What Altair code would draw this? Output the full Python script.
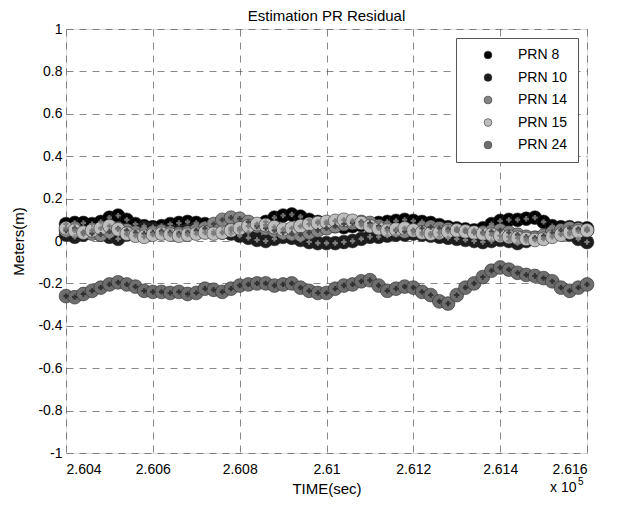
import altair as alt
import pandas as pd

# time samples (sec), every 20 s
TIME = [260400 + 20 * k for k in range(61)]

PRN8 = [0.08, 0.085, 0.085, 0.08, 0.09, 0.11, 0.12, 0.1, 0.08, 0.07,
        0.065, 0.07, 0.08, 0.085, 0.09, 0.085, 0.08, 0.075, 0.07, 0.06,
        0.05, 0.04, 0.06, 0.09, 0.11, 0.12, 0.125, 0.115, 0.1, 0.09,
        0.08, 0.07, 0.065, 0.07, 0.075, 0.08, 0.085, 0.09, 0.095, 0.1,
        0.095, 0.09, 0.085, 0.075, 0.065, 0.06, 0.055, 0.05, 0.06, 0.08,
        0.095, 0.1, 0.1, 0.105, 0.11, 0.09, 0.07, 0.065, 0.065, 0.06,
        0.06]
PRN10 = [0.03, 0.02, 0.03, 0.04, 0.03, 0.02, 0.01, 0.03, 0.05, 0.06,
         0.055, 0.05, 0.05, 0.045, 0.05, 0.06, 0.055, 0.045, 0.04, 0.035,
         0.025, 0.015, 0.005, 0.0, 0.01, 0.02, 0.015, 0.005, -0.005, -0.01,
         -0.01, -0.01, -0.005, 0.0, 0.01, 0.02, 0.02, 0.025, 0.03, 0.03,
         0.035, 0.03, 0.025, 0.02, 0.015, 0.01, 0.005, 0.0, -0.005, 0.0,
         0.005, 0.0, -0.01, 0.0, 0.015, 0.02, 0.03, 0.035, 0.03, 0.01,
         -0.005]
PRN14 = [0.05, 0.06, 0.04, 0.035, 0.03, 0.045, 0.06, 0.05, 0.04, 0.035,
         0.04, 0.045, 0.04, 0.035, 0.04, 0.05, 0.06, 0.08, 0.1, 0.11,
         0.105, 0.09, 0.07, 0.06, 0.05, 0.04, 0.035, 0.03, 0.04, 0.05,
         0.06, 0.07, 0.08, 0.085, 0.09, 0.085, 0.07, 0.06, 0.05, 0.045,
         0.05, 0.06, 0.065, 0.06, 0.055, 0.05, 0.045, 0.04, 0.04, 0.045,
         0.05, 0.04, 0.03, 0.02, 0.015, 0.025, 0.04, 0.05, 0.06, 0.055,
         0.05]
PRN15 = [0.06, 0.05, 0.04, 0.05, 0.06, 0.07, 0.055, 0.035, 0.025, 0.02,
         0.03, 0.035, 0.03, 0.025, 0.03, 0.035, 0.04, 0.035, 0.04, 0.05,
         0.06, 0.07, 0.08, 0.075, 0.065, 0.055, 0.06, 0.07, 0.08, 0.085,
         0.09, 0.095, 0.1, 0.095, 0.085, 0.07, 0.06, 0.05, 0.055, 0.06,
         0.05, 0.04, 0.035, 0.04, 0.045, 0.05, 0.045, 0.04, 0.035, 0.03,
         0.025, 0.02, 0.015, 0.01, 0.005, 0.01, 0.02, 0.03, 0.04, 0.045,
         0.05]
PRN24 = [-0.26, -0.265, -0.25, -0.235, -0.22, -0.205, -0.195, -0.205, -0.215, -0.235,
         -0.24, -0.24, -0.245, -0.24, -0.25, -0.245, -0.225, -0.23, -0.24, -0.225,
         -0.21, -0.205, -0.2, -0.2, -0.21, -0.205, -0.2, -0.22, -0.235, -0.245,
         -0.245, -0.225, -0.21, -0.205, -0.19, -0.185, -0.21, -0.235, -0.225, -0.215,
         -0.22, -0.24, -0.255, -0.285, -0.295, -0.255, -0.22, -0.2, -0.17, -0.14,
         -0.125, -0.135, -0.15, -0.16, -0.165, -0.175, -0.19, -0.22, -0.235, -0.22,
         -0.205]

SERIES = ["PRN 8", "PRN 10", "PRN 14", "PRN 15", "PRN 24"]
COLORS = ["#000000", "#1c1c1c", "#858585", "#bdbdbd", "#6e6e6e"]
CROSS_COLORS = ["#7a7a7a", "#8a8a8a", "#3a3a3a", "#777777", "#2a2a2a"]
X_TICKS = [260400, 260600, 260800, 261000, 261200, 261400, 261600]
Y_TICKS = [-1, -0.8, -0.6, -0.4, -0.2, 0, 0.2, 0.4, 0.6, 0.8, 1]

rows = []
for i, (name, vals) in enumerate(zip(SERIES, [PRN8, PRN10, PRN14, PRN15, PRN24])):
    for t, v in zip(TIME, vals):
        rows.append({"t": t, "v": v, "series": name, "ord": i})
df = pd.DataFrame(rows)

FONT = "Liberation Sans"

x_enc = alt.X("t:Q",
              scale=alt.Scale(domain=[260400, 261600], nice=False, zero=False),
              axis=alt.Axis(values=X_TICKS, title="TIME(sec)",
                            labelExpr="format(datum.value/100000, '.3~f')",
                            grid=True, gridDash=[7, 6], gridColor="#555555",
                            gridOpacity=0.7, ticks=False, domain=False,
                            labelFont=FONT, labelFontSize=14, labelColor="#000",
                            labelPadding=9, titleFont=FONT, titleFontSize=15,
                            titleFontWeight="normal", titleColor="#000",
                            titlePadding=5))
y_enc = alt.Y("v:Q",
              scale=alt.Scale(domain=[-1, 1], nice=False, zero=False),
              axis=alt.Axis(values=Y_TICKS, title="Meters(m)",
                            labelExpr="replace(format(datum.value, '.1~f'), '\u2212', '-')",
                            grid=True, gridDash=[7, 6], gridColor="#555555",
                            gridOpacity=0.7, ticks=False, domain=False,
                            labelFont=FONT, labelFontSize=14, labelColor="#000",
                            labelPadding=4, titleFont=FONT, titleFontSize=15,
                            titleFontWeight="normal", titleColor="#000",
                            titlePadding=11))

points = alt.Chart(df).mark_point(
    filled=True, shape="circle", size=190, opacity=1, stroke="#2a2a2a",
    strokeWidth=0.6, clip=False
).encode(
    x=x_enc,
    y=y_enc,
    color=alt.Color("series:N",
                    scale=alt.Scale(domain=SERIES, range=COLORS),
                    legend=alt.Legend(title=None, orient="none",
                                      legendX=390, legendY=9,
                                      labelFont=FONT, labelFontSize=14,
                                      labelColor="#000", symbolSize=60,
                                      symbolType="circle", rowPadding=8.5,
                                      padding=10, symbolOffset=15, labelOffset=23,
                                      fillColor="#ffffff", strokeColor="#555555",
                                      symbolStrokeColor="#333333",
                                      symbolStrokeWidth=0.6)),
    order=alt.Order("ord:Q")
)

crosses = alt.Chart(df).mark_point(
    filled=True, shape="cross", size=28, opacity=0.9, clip=False
).encode(
    x="t:Q",
    y="v:Q",
    color=alt.Color("series:N",
                    scale=alt.Scale(domain=SERIES, range=CROSS_COLORS),
                    legend=None),
    order=alt.Order("ord:Q")
)

note = pd.DataFrame({"a": [0]})
x10 = alt.Chart(note).mark_text(
    text="x 10", font=FONT, fontSize=14, align="left", baseline="alphabetic", color="#000"
).encode(x=alt.value(484), y=alt.value(463))
exp5 = alt.Chart(note).mark_text(
    text="5", font=FONT, fontSize=10, align="left", baseline="alphabetic", color="#000"
).encode(x=alt.value(512), y=alt.value(456))

chart = alt.layer(points, crosses, x10, exp5).resolve_scale(
    color="independent"
).properties(
    width=521, height=424,
    title=alt.TitleParams("Estimation PR Residual", font=FONT, fontSize=15,
                          fontWeight="normal", color="#000", anchor="middle",
                          offset=-2),
    padding={"left": 58, "top": 21, "right": 20, "bottom": 45},
    autosize="none",
).configure_view(
    stroke="#999999", strokeWidth=1
).configure(background="white")

chart.save("out.html", embed_options={"renderer": "svg", "actions": False})
